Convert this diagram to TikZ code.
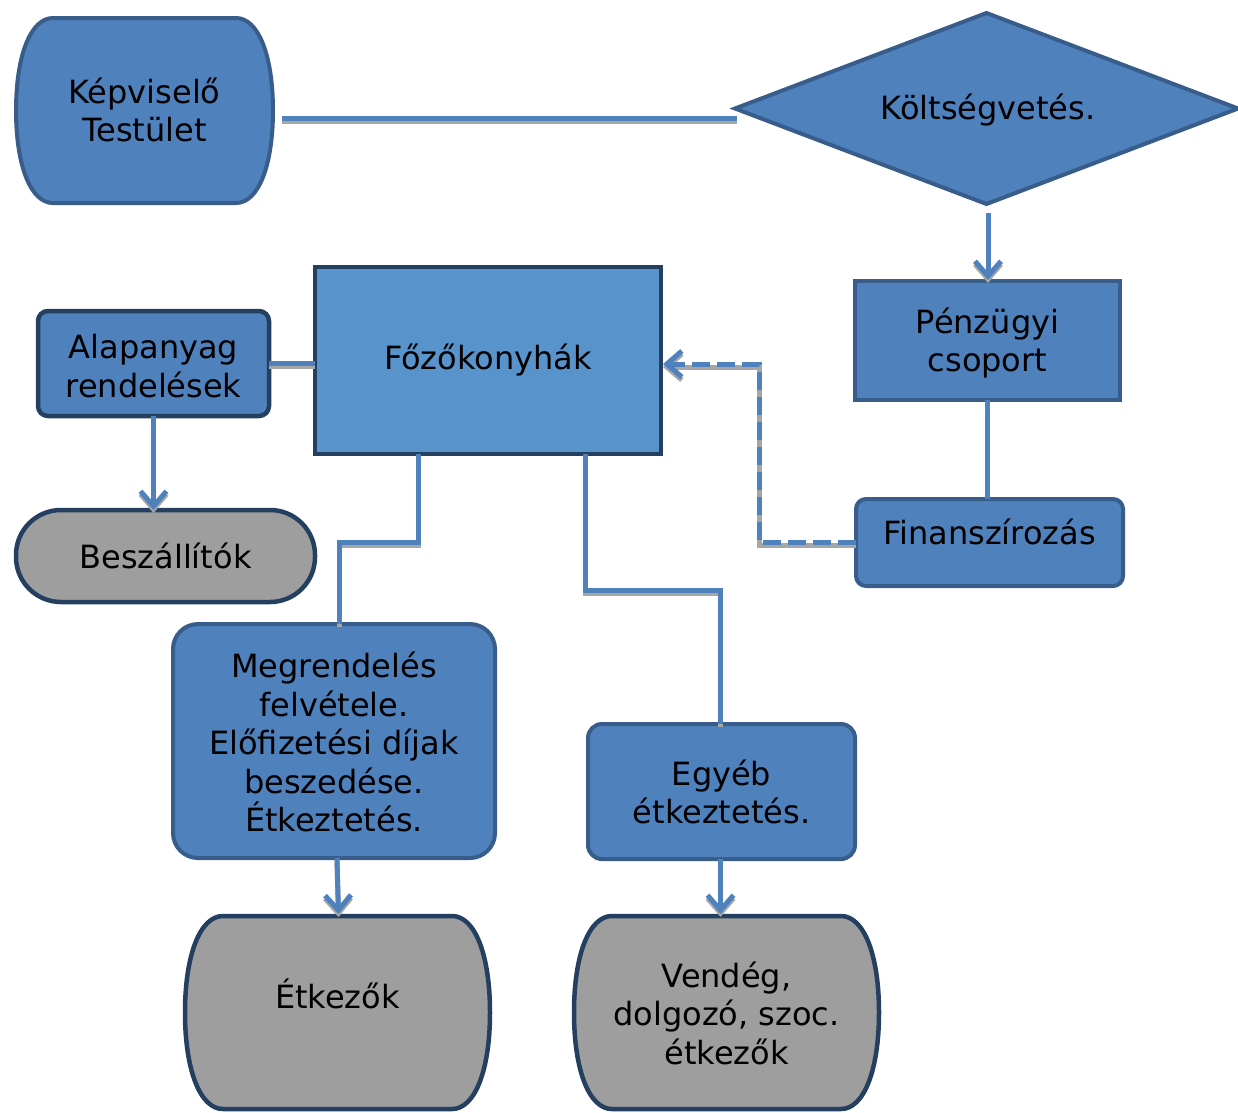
\documentclass[tikz,border=0pt]{standalone}
\usepackage{fontspec}
\setmainfont{DejaVu Sans}
\usetikzlibrary{calc,arrows.meta}
\definecolor{boxblue}{HTML}{4F81BD}
\definecolor{lightblue}{HTML}{5894CB}
\definecolor{midborder}{HTML}{385D8A}
\definecolor{darkborder}{HTML}{243F60}
\definecolor{boxgray}{HTML}{9E9E9E}
\definecolor{shadowgray}{HTML}{A6A6A6}
\definecolor{lineblue}{HTML}{4F81BD}
\newcommand\curvybox[4]{%
 \draw[#1] ($(#2.north west)+(#3,0)$) -- ($(#2.north east)+(-#3,0)$)
  .. controls ($(#2.north east)+({-0.4*#3},0)$) and ($(#2.east)+(0,{-0.6*#4})$) .. (#2.east)
  .. controls ($(#2.east)+(0,{0.6*#4})$) and ($(#2.south east)+({-0.4*#3},0)$) .. ($(#2.south east)+(-#3,0)$)
  -- ($(#2.south west)+(#3,0)$)
  .. controls ($(#2.south west)+({0.4*#3},0)$) and ($(#2.west)+(0,{0.6*#4})$) .. (#2.west)
  .. controls ($(#2.west)+(0,{-0.6*#4})$) and ($(#2.north west)+({0.4*#3},0)$) .. cycle;}
\begin{document}
\begin{tikzpicture}[x=1pt,y=-1pt,
  every node/.style={font=\fontsize{32}{38.5}\selectfont, align=center, inner sep=0pt, outer sep=0pt},
  blueshape/.style={fill=boxblue, draw=midborder, line width=4pt},
  darkblue/.style={fill=boxblue, draw=darkborder, line width=4.5pt},
  grayshape/.style={fill=boxgray, draw=darkborder, line width=4.5pt},
  conn/.style={draw=lineblue, line width=5pt, preaction={draw=shadowgray, line width=5pt, transform canvas={shift={(0,3)}}}},
  tip/.style={-{Straight Barb[length=15pt,width=26pt]}}]
\useasboundingbox (0,0) rectangle (1238,1112);

% Képviselő Testület
\node[minimum width=257, minimum height=185] (kep) at (144.5,110.5) {};
\curvybox{blueshape}{kep}{37}{92.5}
\node at (144.5,110) {Képviselő\\Testület};

% Költségvetés diamond
\node[minimum width=503, minimum height=191] (dia) at (986.5,108.5) {};
\draw[blueshape] (dia.west) -- (dia.north) -- (dia.east) -- (dia.south) -- cycle;
\node at (988,110) {Költségvetés.};

% Pénzügyi csoport
\node[blueshape, minimum width=265, minimum height=119] (pen) at (987.5,340.5) {};
\node at (987.5,343) {Pénzügyi\\csoport};

% Finanszírozás
\node[blueshape, rounded corners=10pt, minimum width=267, minimum height=87] (fin) at (989.5,542.5) {};
\node at (989.5,532) {Finanszírozás};

% Főzőkonyhák
\node[fill=lightblue, draw=darkborder, line width=4.5pt, minimum width=346, minimum height=187] (foz) at (488,360.5) {Főzőkonyhák};

% Alapanyag rendelések
\node[darkblue, rounded corners=10pt, minimum width=231, minimum height=105] (ala) at (153.5,363.5) {};
\node at (153.5,366) {Alapanyag\\rendelések};

% Beszállítók
\node[grayshape, rounded corners=45pt, minimum width=299, minimum height=92] (bes) at (165.5,556) {Beszállítók};

% Megrendelés
\node[blueshape, rounded corners=25pt, minimum width=322, minimum height=234] (meg) at (334,741) {};
\node at (334,742) {Megrendelés\\felvétele.\\Előfizetési díjak\\beszedése.\\Étkeztetés.};

% Egyéb étkeztetés
\node[blueshape, rounded corners=14pt, minimum width=267, minimum height=135] (egy) at (721.5,791.5) {};
\node at (721.5,792) {Egyéb\\étkeztetés.};

% Étkezők
\node[minimum width=305, minimum height=193] (etk) at (337.5,1012.5) {};
\curvybox{grayshape}{etk}{38}{96.5}
\node at (337.5,994) {Étkezők};

% Vendég
\node[minimum width=305, minimum height=193] (ven) at (726.5,1012.5) {};
\curvybox{grayshape}{ven}{38}{96.5}
\node at (726.5,1013) {Vendég,\\dolgozó, szoc.\\étkezők};

% connectors
\draw[conn] ($(kep.east)+(9,7.5)$) -- ($(dia.west)+(2,9.5)$);
\draw[conn,tip] ($(dia.south)+(1.5,9)$) -- ($(pen.north)+(0.5,-1)$);
\draw[lineblue, line width=5pt] (pen.south) -- (pen.south |- fin.north);
\draw[conn,tip,dash pattern=on 18pt off 7pt] (fin.west) -- ($(fin.west)+(-97,0)$) |- ($(foz.east)+(2,3.5)$);
\draw[conn] (ala.east) -- (ala.east -| foz.west);
\draw[conn,tip] (ala.south) -- (ala.south |- bes.north);
\draw[conn] ($(foz.south west)+(103,0)$) -- ++(0,88) -| ($(meg.north)+(5,0)$);
\draw[conn] ($(foz.south west)+(270,0)$) -- ++(0,136) -| ($(egy.north)+(-1,0)$);
\draw[conn,tip] ($(meg.south)+(3,0)$) -- ($(etk.north)+(1,-2)$);
\draw[conn,tip] ($(egy.south)+(-1,0)$) -- ($(ven.north)+(-6,-2)$);
\end{tikzpicture}
\end{document}
